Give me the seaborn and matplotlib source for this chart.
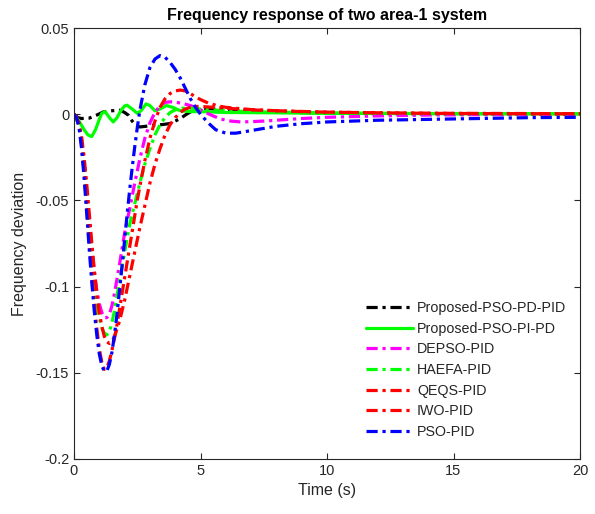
import matplotlib
matplotlib.use("Agg")
import matplotlib.pyplot as plt
import seaborn as sns
import pandas as pd

# ---- data ----
labels = ["Proposed-PSO-PD-PID", "Proposed-PSO-PI-PD", "DEPSO-PID", "HAEFA-PID",
          "QEQS-PID", "IWO-PID", "PSO-PID"]

t_pdpid = [0, 0.15, 0.3, 0.6, 0.9, 1.16, 1.5, 1.82, 2.0, 2.15, 2.3, 2.45, 2.6, 2.85, 3.13, 3.5,
           3.8, 4.0, 4.2, 4.45, 4.72, 5.0, 5.24, 5.6, 6.0, 7, 8, 10, 12, 15, 20]
y_pdpid = [0, -0.002, -0.0025, -0.0023, -0.0005, 0.0013, 0.002, 0.0023, 0.001, -0.0006, -0.004,
           -0.0065, -0.0074, -0.007, -0.0064, -0.006, -0.0054, -0.004, -0.0025, 0.0, 0.0023, 0.003,
           0.0033, 0.003, 0.0025, 0.0018, 0.0012, 0.0006, 0.0003, 0.0001, 0.0]

t_pipd = [0, 0.2, 0.4, 0.55, 0.7, 0.85, 1.0, 1.1, 1.23, 1.4, 1.55, 1.7, 1.85, 2.0, 2.1, 2.3, 2.5,
          2.65, 2.85, 3.0, 3.2, 3.4, 3.65, 3.9, 4.2, 4.6, 5, 6, 8, 10, 15, 20]
y_pipd = [0, -0.004, -0.009, -0.012, -0.013, -0.009, -0.003, 0.0005, 0.0015, -0.002, -0.0045,
          -0.002, 0.002, 0.0048, 0.0052, 0.003, 0.0005, 0.002, 0.006, 0.005, 0.002, 0.003, 0.005,
          0.004, 0.002, 0.0015, 0.0015, 0.001, 0.0008, 0.0005, 0.0003, 0.0002]

t_depso = [0, 0.2, 0.3, 0.4, 0.5, 0.6, 0.7, 0.8, 0.9, 1.0, 1.1, 1.2, 1.3, 1.4, 1.5, 1.6, 1.8, 2.0,
           2.2, 2.4, 2.6, 2.8, 3.0, 3.2, 3.4, 3.6, 3.8, 4.0, 4.3, 4.6, 4.9, 5.2, 5.5, 5.8, 6.2, 6.6,
           7, 7.5, 8, 9, 10, 12, 14, 17, 20]
y_depso = [0, -0.006, -0.015, -0.028, -0.044, -0.061, -0.077, -0.091, -0.102, -0.110, -0.115,
           -0.118, -0.118, -0.116, -0.111, -0.104, -0.087, -0.069, -0.055, -0.040, -0.026, -0.014,
           -0.005, 0.001, 0.005, 0.0068, 0.0072, 0.007, 0.0062, 0.005, 0.0035, 0.001, -0.001,
           -0.0028, -0.004, -0.0045, -0.0043, -0.004, -0.0035, -0.0025, -0.0018, -0.001, -0.0005,
           -0.0002, -0.0001]

t_haefa = [0, 0.2, 0.3, 0.4, 0.5, 0.6, 0.7, 0.8, 0.9, 1.0, 1.1, 1.2, 1.3, 1.4, 1.5, 1.6, 1.8, 2.0,
           2.2, 2.4, 2.6, 2.8, 3.0, 3.2, 3.4, 3.6, 3.8, 4.0, 4.3, 4.6, 5.0, 5.5, 6, 7, 8, 10, 12, 15, 20]
y_haefa = [0, -0.006, -0.015, -0.029, -0.046, -0.064, -0.082, -0.097, -0.109, -0.118, -0.124,
           -0.127, -0.128, -0.126, -0.121, -0.114, -0.097, -0.080, -0.064, -0.052, -0.040, -0.029,
           -0.020, -0.012, -0.006, -0.002, 0.001, 0.0025, 0.0035, 0.0035, 0.003, 0.0025, 0.002,
           0.0015, 0.0012, 0.0008, 0.0005, 0.0003, 0.0002]

t_qeqs = [0, 0.2, 0.3, 0.4, 0.5, 0.6, 0.7, 0.8, 0.9, 1.0, 1.1, 1.2, 1.3, 1.4, 1.5, 1.6, 1.8, 2.0,
          2.2, 2.4, 2.6, 2.8, 3.0, 3.2, 3.4, 3.6, 3.8, 4.0, 4.2, 4.4, 4.6, 4.8, 5.0, 5.5, 6, 7, 8,
          10, 12, 15, 20]
y_qeqs = [0, -0.005, -0.013, -0.025, -0.040, -0.057, -0.074, -0.090, -0.104, -0.115, -0.123,
          -0.129, -0.132, -0.133, -0.132, -0.129, -0.120, -0.108, -0.094, -0.080, -0.066, -0.053,
          -0.040, -0.029, -0.020, -0.012, -0.006, -0.002, 0.001, 0.003, 0.004, 0.0045, 0.0045,
          0.004, 0.0035, 0.0025, 0.002, 0.0012, 0.0008, 0.0005, 0.0003]

t_iwo = [0, 0.1, 0.2, 0.3, 0.4, 0.5, 0.6, 0.7, 0.8, 0.9, 1.0, 1.1, 1.2, 1.3, 1.4, 1.5, 1.6, 1.7,
         1.8, 1.9, 2.0, 2.1, 2.2, 2.3, 2.4, 2.5, 2.6, 2.8, 3.0, 3.2, 3.4, 3.6, 3.8, 4.0, 4.2, 4.4,
         4.6, 4.8, 5.0, 5.3, 5.7, 6.0, 6.5, 7, 8, 9, 10, 12, 14, 17, 20]
y_iwo = [0, -0.0015, -0.007, -0.018, -0.034, -0.053, -0.073, -0.092, -0.109, -0.124, -0.136,
         -0.144, -0.148, -0.147, -0.143, -0.137, -0.130, -0.122, -0.113, -0.104, -0.095, -0.086,
         -0.077, -0.068, -0.059, -0.050, -0.042, -0.027, -0.014, -0.004, 0.004, 0.009, 0.012,
         0.0135, 0.014, 0.0135, 0.012, 0.010, 0.0085, 0.0065, 0.0048, 0.004, 0.0033, 0.0027,
         0.002, 0.0015, 0.0012, 0.0008, 0.0005, 0.0003, 0.0002]

t_pso = [0, 0.1, 0.2, 0.3, 0.4, 0.5, 0.6, 0.7, 0.8, 0.9, 1.0, 1.1, 1.2, 1.3, 1.4, 1.5, 1.6, 1.7,
         1.8, 1.9, 2.0, 2.1, 2.2, 2.3, 2.4, 2.5, 2.6, 2.8, 3.0, 3.2, 3.4, 3.6, 3.8, 4.0, 4.2, 4.4,
         4.6, 4.8, 5.0, 5.3, 5.6, 6.0, 6.4, 6.8, 7.2, 7.6, 8, 9, 10, 12, 14, 16, 18, 20]
y_pso = [0, -0.002, -0.008, -0.020, -0.037, -0.057, -0.078, -0.097, -0.114, -0.128, -0.139,
         -0.146, -0.149, -0.149, -0.145, -0.138, -0.128, -0.116, -0.102, -0.088, -0.073, -0.058,
         -0.044, -0.031, -0.019, -0.008, 0.002, 0.017, 0.027, 0.032, 0.034, 0.033, 0.030, 0.026,
         0.021, 0.015, 0.009, 0.004, 0.000, -0.005, -0.009, -0.011, -0.011, -0.010, -0.009,
         -0.008, -0.007, -0.0055, -0.0045, -0.0035, -0.003, -0.0025, -0.002, -0.0018]

x_ticks = [0, 5, 10, 15, 20]
y_ticks = [-0.2, -0.15, -0.1, -0.05, 0, 0.05]
y_ticklabels = ["-0.2", "-0.15", "-0.1", "-0.05", "0", "0.05"]

# ---- build long table ----
series = [(t_pdpid, y_pdpid), (t_pipd, y_pipd), (t_depso, y_depso), (t_haefa, y_haefa),
          (t_qeqs, y_qeqs), (t_iwo, y_iwo), (t_pso, y_pso)]
frames = []
for lab, (tt, yy) in zip(labels, series):
    frames.append(pd.DataFrame({"t": tt, "y": yy, "method": lab}))
df = pd.concat(frames, ignore_index=True)

palette = {labels[0]: "#000000", labels[1]: "#00ff00", labels[2]: "#ff00ff",
           labels[3]: "#00ff00", labels[4]: "#ff0000", labels[5]: "#ff0000",
           labels[6]: "#0000ff"}
dd = (3.5, 1.5, 1.0, 1.5)
dashes = {labels[0]: dd, labels[1]: "", labels[2]: dd, labels[3]: dd,
          labels[4]: dd, labels[5]: dd, labels[6]: dd}

sns.set_style("ticks")
plt.rcParams["font.family"] = ["Liberation Sans", "DejaVu Sans"]

fig = plt.figure(figsize=(5.95, 5.14), dpi=100)
ax = fig.add_axes([74 / 595, 1 - 459 / 514, (580 - 74) / 595, (459 - 28) / 514])

sns.lineplot(data=df, x="t", y="y", hue="method", style="method", palette=palette,
             dashes=dashes, hue_order=labels, style_order=labels, linewidth=2.3,
             estimator=None, sort=True, ax=ax)

ax.set_xlim(0, 20)
ax.set_ylim(-0.2, 0.05)
ax.set_xticks(x_ticks)
ax.set_xticklabels([str(v) for v in x_ticks])
ax.set_yticks(y_ticks)
ax.set_yticklabels(y_ticklabels)
ax.tick_params(direction="in", top=True, right=True, length=4, width=0.8,
               labelsize=10.5, colors="#262626")
for s in ax.spines.values():
    s.set_visible(True)
    s.set_color("#262626")
    s.set_linewidth(0.8)

ax.set_xlabel("Time (s)", fontsize=11.5, color="#262626", labelpad=4)
ax.set_ylabel("Frequency deviation", fontsize=11.5, color="#262626", labelpad=6)
ax.set_title("Frequency response of two area-1 system", fontsize=11.5, fontweight="bold",
             color="black", pad=6)

leg = ax.legend(loc="lower right", bbox_to_anchor=(0.99, 0.026), frameon=False,
                fontsize=10.3, handlelength=3.3, handletextpad=0.3, labelspacing=0.47,
                borderaxespad=0.2)
for h in leg.get_lines():
    h.set_linewidth(2.3)

fig.savefig("out.png", dpi=100)
